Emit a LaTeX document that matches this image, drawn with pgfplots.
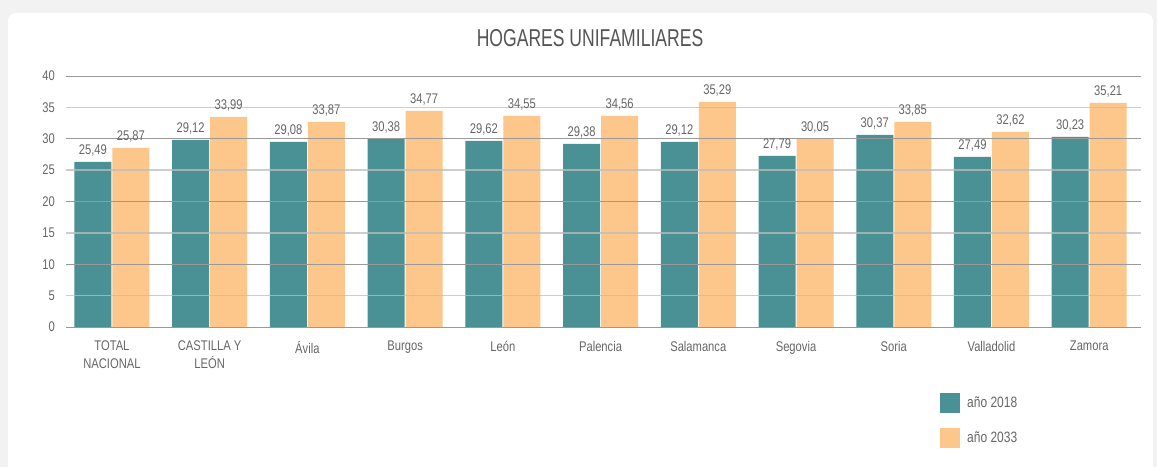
\documentclass[border=0pt]{standalone}
\usepackage{fontspec}
\setmainfont{Liberation Sans}[FakeStretch=0.8]
\newfontfamily\titlefont{Liberation Sans}[FakeStretch=0.72]
\usepackage{pgfplots}
\pgfplotsset{compat=1.18}
\usepackage{pgfplotstable}

\definecolor{c2018}{HTML}{4A9195}
\definecolor{c2033}{HTML}{FDC68A}
\definecolor{gridd}{HTML}{999999}
\definecolor{gridl}{HTML}{BDBDBD}
\definecolor{txt}{HTML}{666666}
\definecolor{ttl}{HTML}{555555}

% x = category index, y = bar height as drawn, lab = printed value
\pgfplotstableread{
x y lab
0 26.31 25,49
1 29.81 29,12
2 29.50 29,08
3 30.08 30,38
4 29.66 29,62
5 29.18 29,38
6 29.50 29,12
7 27.27 27,79
8 30.61 30,37
9 27.11 27,49
10 30.29 30,23
}\dataA

\pgfplotstableread{
x y lab
0 28.54 25,87
1 33.47 33,99
2 32.68 33,87
3 34.43 34,77
4 33.63 34,55
5 33.63 34,56
6 35.86 35,29
7 30.03 30,05
8 32.68 33,85
9 31.09 32,62
10 35.70 35,21
}\dataB

\begin{document}
\begin{tikzpicture}
\useasboundingbox (0,0) rectangle (1157pt,467pt);
\begin{scope}
\clip (0,0) rectangle (1157pt,467pt);
\fill[black!5] (0,0) rectangle (1157pt,467pt);
\fill[white, rounded corners=8pt] (8pt,-12pt) rectangle (1153pt,454pt);
\end{scope}
\node[font=\titlefont\fontsize{24.4}{28}\selectfont, text=ttl, inner sep=0pt, anchor=center] at (590pt,429pt) {HOGARES UNIFAMILIARES};
\begin{axis}[
  at={(66pt,140pt)}, anchor=south west,
  scale only axis, width=1075pt, height=251pt,
  ybar=1pt, bar width=37pt,
  ymin=0, ymax=40, xmin=-0.47, xmax=10.53,
  ytick={0,10,20,30,40},
  extra y ticks={5,15,25,35},
  extra y tick style={grid style={gridl, line width=1.6pt, opacity=0.75}},
  ymajorgrids,
  grid style={gridd, line width=0.9pt},
  axis on top,
  axis line style={draw=none},
  major tick length=0pt,
  xtick={0,1,2,3,4,5,6,7,8,9,10},
  xticklabels={{TOTAL\\NACIONAL},{CASTILLA Y\\LEÓN},Ávila,Burgos,León,Palencia,Salamanca,Segovia,Soria,Valladolid,Zamora},
  xticklabel style={align=center, font=\fontsize{14}{18}\selectfont, text=txt, inner sep=0pt, yshift=-14pt},
  yticklabel style={font=\fontsize{14}{16}\selectfont, text=txt, inner sep=0pt, xshift=-11pt},
  /pgf/number format/assume math mode=true,
  point meta=explicit symbolic,
  nodes near coords,
  every node near coord/.append style={font=\fontsize{14}{16}\selectfont, text=txt, inner sep=0pt, yshift=5pt},
  legend style={at={(0.813,-0.263)}, anchor=north west, draw=none, fill=none,
    inner sep=0pt, row sep=15pt, font=\fontsize{15}{18}\selectfont, text=txt,
    nodes={inner sep=0pt}},
  legend cell align=left,
  legend image code/.code={\draw[#1, draw=none] (0pt,-10pt) rectangle (20pt,10pt);},
  /tikz/every odd column/.append style={column sep=7pt},
]
\addplot[fill=c2018, draw=none] table[x=x, y=y, meta=lab] {\dataA};
\addplot[fill=c2033, draw=none] table[x=x, y=y, meta=lab] {\dataB};
\legend{año 2018, año 2033}
\end{axis}
\end{tikzpicture}
\end{document}
